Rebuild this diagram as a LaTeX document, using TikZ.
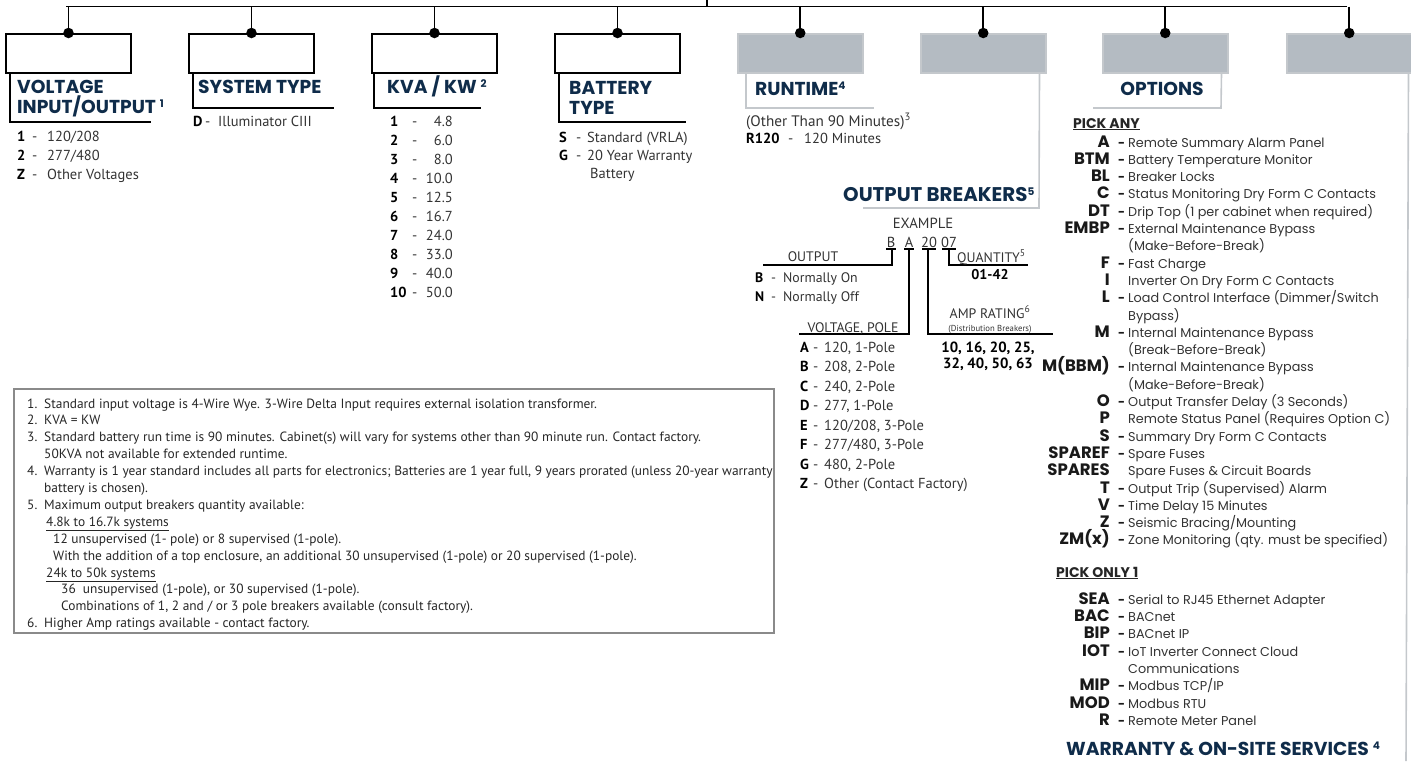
\documentclass[tikz,border=0pt]{standalone}
\usepackage{fontspec}
\setmainfont{PT Sans}
\newfontfamily\pop{Poppins}
\usetikzlibrary{calc}
\definecolor{headc}{HTML}{0F2C4A}
\definecolor{gfill}{HTML}{B4BBC2}
\definecolor{gline}{HTML}{C4C8CC}
\definecolor{txt}{HTML}{333333}
\definecolor{nbord}{HTML}{8A8A8A}
\tikzset{
 wbox/.style={draw=black, line width=2pt, fill=white, minimum width=125pt, minimum height=39pt, anchor=north west, inner sep=0pt},
 gbox/.style={draw=gline, line width=1.5pt, fill=gfill, minimum width=125pt, minimum height=39pt, anchor=north west, inner sep=0pt},
 bus/.style={line width=1.6pt, black},
 brk/.style={line width=1.8pt, black},
 gbrk/.style={line width=1.6pt, gline},
 thin/.style={line width=1.2pt, black},
 hd/.style={font=\pop\bfseries\fontsize{18.7}{22}\selectfont, text=headc, anchor=base west, inner sep=0pt},
 lt/.style={font=\fontsize{14.5}{17}\selectfont, text=txt, anchor=base west, inner sep=0pt},
 lc/.style={font=\bfseries\fontsize{14.5}{17}\selectfont, text=black, anchor=base west, inner sep=0pt},
 st/.style={font=\fontsize{13.8}{16}\selectfont, text=txt, anchor=base, inner sep=0pt},
 oc/.style={font=\pop\bfseries\fontsize{16.5}{19}\selectfont, text=black!90, anchor=base east, inner sep=0pt},
 odash/.style={font=\pop\bfseries\fontsize{12}{14}\selectfont, text=black!90, anchor=base west, inner sep=0pt},
 od/.style={font=\pop\fontsize{12.8}{15}\selectfont, text=txt, anchor=base west, inner sep=0pt},
 pk/.style={font=\pop\bfseries\fontsize{14}{16}\selectfont, text=black!85, anchor=base west, inner sep=0pt},
 nt/.style={font=\fontsize{13.4}{15}\selectfont, text=black!85, anchor=base west, inner sep=0pt},
 dot/.style={circle, fill=black, inner sep=0pt, minimum size=10.5pt},
}
\newcounter{on}
\newcommand\opt[4]{\stepcounter{on}%
 \node[oc] (oc\theon) at (1110,#1) {#2};%
 \node[odash] (ox\theon) at (1118,#1) {#3};%
 \node[od] (od\theon) at (1128,#1) {#4};}
\newcommand\sups[1]{{\fontsize{10.5}{10}\selectfont\raisebox{5.5pt}{#1}}}
\begin{document}
\begin{tikzpicture}[x=1pt,y=-1pt]
\useasboundingbox (0,0) rectangle (1411,761);
% bus
\coordinate (top) at (707,0);
\coordinate (busL) at (66,6.5);
\coordinate (busR) at (1347,6.5);
\coordinate (busC) at (707,6.5);
\draw[bus] (busL) -- (busR);
\draw[bus] (top) -- (busC);
% boxes
\node[wbox] (b1) at (5,33) {};
\node[wbox] (b2) at (188,33) {};
\node[wbox] (b3) at (371,33) {};
\node[wbox] (b4) at (554,33) {};
\node[gbox] (b5) at (737,33) {};
\node[gbox] (b6) at (920,33) {};
\node[gbox] (b7) at (1102,33) {};
\node[gbox] (b8) at (1286,33) {};
\foreach \b in {b1,b2,b3,b4,b5,b6,b7,b8}{
  \draw[bus] (\b.north |- busL) -- (\b.north);
  \node[dot] (d\b) at (\b.north) {};
}
% brackets
\draw[brk] ($(b1.south west)+(5,0)$) -- (10,122) -- (151,122);
\draw[brk] ($(b2.south west)+(5,0)$) -- (193,108) -- (334,108);
\draw[brk] ($(b3.south west)+(3,0)$) -- (374,108) -- (481,108);
\draw[brk] ($(b4.south west)+(5,0)$) -- (559,122) -- (686,122);
\draw[gbrk] ($(b5.south west)+(9,0)$) -- (746,108) -- (874,108);
\draw[gbrk] ($(b6.south east)+(-7,0)$) -- (1039,208) -- (863,208);
\draw[gbrk] ($(b7.south east)+(-7,0)$) -- (1221,108) -- (1093,108);
\draw[gbrk] ($(b8.south east)+(-4,0)$) -- (1406,761);
% headings
\node[hd] (h1a) at (17,93) {VOLTAGE};
\node[hd] (h1b) at (17,113) {INPUT/OUTPUT \sups{1}};
\node[hd] (h2) at (198,93) {SYSTEM TYPE};
\node[hd] (h3) at (387,93) {KVA / KW \sups{2}};
\node[hd] (h4a) at (569,94) {BATTERY};
\node[hd] (h4b) at (569,114) {TYPE};
\node[hd] (h5) at (755,95) {RUNTIME\sups{4}};
\node[hd, anchor=base] (h7) at (1162,95) {OPTIONS};
\node[hd, font=\pop\bfseries\fontsize{19.8}{22}\selectfont] (h6) at (843,201) {OUTPUT BREAKERS\sups{5}};
\node[hd] (h8) at (1066,755) {WARRANTY \& ON-SITE SERVICES \sups{4}};
% list 1
\foreach \c/\t [count=\i] in {1/120\slash 208,2/277\slash 480,Z/Other Voltages}{
  \pgfmathsetmacro\yy{141+19*(\i-1)}
  \node[lc] (v\i) at (17,\yy) {\c};
  \node[lt] (vd\i) at (32,\yy) {-};
  \node[lt] (vt\i) at (47,\yy) {\t};
}
% list 2
\node[lc] (s1) at (193,126) {D};
\node[lt] (sd1) at (205,126) {-};
\node[lt] (st1) at (218,126) {Illuminator CIII};
% list 3
\foreach \c/\v [count=\i] in {1/4.8,2/6.0,3/8.0,4/10.0,5/12.5,6/16.7,7/24.0,8/33.0,9/40.0,10/50.0}{
  \pgfmathsetmacro\yy{126+19*(\i-1)}
  \node[lc] (k\i) at (390,\yy) {\c};
  \node[lt] (kd\i) at (412,\yy) {-};
  \node[lt, anchor=base east] (kv\i) at (453,\yy) {\v};
}
% list 4
\node[lc] (bs) at (559,142) {S};
\node[lt] (bsd) at (576,142) {-};
\node[lt] (bst) at (587,142) {Standard (VRLA)};
\node[lc] (bg) at (559,160) {G};
\node[lt] (bgd) at (576,160) {-};
\node[lt] (bgt) at (587,160) {20 Year Warranty};
\node[lt] (bgt2) at (590,178) {Battery};
% runtime
\node[lt, font=\fontsize{15.2}{17}\selectfont] (r1) at (746,126) {(Other Than 90 Minutes)\textsuperscript{3}};
\node[lc] (r2) at (746,143) {R120};
\node[lt] (r2d) at (788,143) {-};
\node[lt] (r2t) at (804,143) {120 Minutes};
% output breakers example
\node[st, font=\fontsize{14.7}{17}\selectfont] (ex) at (923,228) {EXAMPLE};
\node[st, font=\fontsize{14.5}{17}\selectfont] (eB) at (891,247) {B};
\node[st, font=\fontsize{14.5}{17}\selectfont] (eA) at (909,247) {A};
\node[st, font=\fontsize{14.5}{17}\selectfont] (e20) at (929,247) {20};
\node[st, font=\fontsize{14.5}{17}\selectfont] (e07) at (949,247) {07};
\draw[thin] ($(eB.base)+(-5,2)$) -- ($(eB.base)+(5,2)$);
\draw[thin] ($(eA.base)+(-5,2)$) -- ($(eA.base)+(5,2)$);
\draw[thin] ($(e20.base)+(-7,2)$) -- ($(e20.base)+(7,2)$);
\draw[thin] ($(e07.base)+(-7,2)$) -- ($(e07.base)+(7,2)$);
\coordinate (oEnd) at (763,265);
\coordinate (vEnd) at (799,334);
\coordinate (aEnd) at (1053,334);
\coordinate (qEnd) at (1028,265);
\draw[thin] ($(eB.base)+(1,2)$) |- (oEnd);
\draw[thin] ($(eA.base)+(0,2)$) |- (vEnd);
\draw[thin] ($(e20.base)+(-1,2)$) |- (aEnd);
\draw[thin] ($(e07.base)+(0,2)$) |- (qEnd);
\node[st] (lo) at (813,261) {OUTPUT};
\node[lc, font=\bfseries\fontsize{13.8}{16}\selectfont] (o1) at (755,282) {B};
\node[lt, font=\fontsize{13.8}{16}\selectfont] (o1d) at (771,282) {-};
\node[lt, font=\fontsize{13.8}{16}\selectfont] (o1t) at (783,282) {Normally On};
\node[lc, font=\bfseries\fontsize{13.8}{16}\selectfont] (o2) at (755,301) {N};
\node[lt, font=\fontsize{13.8}{16}\selectfont] (o2d) at (771,301) {-};
\node[lt, font=\fontsize{13.8}{16}\selectfont] (o2t) at (783,301) {Normally Off};
\node[st, anchor=base west] (lq) at (957,262) {QUANTITY\textsuperscript{5}};
\node[lc, anchor=base, font=\bfseries\fontsize{14.2}{16}\selectfont] (q1) at (990,279) {01-42};
\node[st] (la) at (990,318) {AMP RATING\textsuperscript{6}};
\node[st, font=\fontsize{8.7}{10}\selectfont] (la2) at (990,331) {(Distribution Breakers)};
\node[lc, anchor=base, font=\bfseries\fontsize{14.8}{16}\selectfont] (a1) at (988,352) {10, 16, 20, 25,};
\node[lc, anchor=base, font=\bfseries\fontsize{14.8}{16}\selectfont] (a2) at (988,368) {32, 40, 50, 63};
\node[st] (lv) at (853,332) {VOLTAGE, POLE};
\foreach \c/\t [count=\i] in {A/{120, 1-Pole},B/{208, 2-Pole},C/{240, 2-Pole},D/{277, 1-Pole},E/{120\slash 208, 3-Pole},F/{277\slash 480, 3-Pole},G/{480, 2-Pole},Z/Other (Contact Factory)}{
  \pgfmathsetmacro\yy{352+19.5*(\i-1)}
  \node[lc] (p\i) at (800,\yy) {\c};
  \node[lt] (pd\i) at (813,\yy) {-};
  \node[lt] (pt\i) at (824,\yy) {\t};
}
% options
\node[pk] (pa) at (1073,128) {\underline{PICK ANY}};
\opt{147}{A}{-}{Remote Summary Alarm Panel}
\opt{164.3}{BTM}{-}{Battery Temperature Monitor}
\opt{181.6}{BL}{-}{Breaker Locks}
\opt{198.9}{C}{-}{Status Monitoring Dry Form C Contacts}
\opt{216.2}{DT}{-}{Drip Top (1 per cabinet when required)}
\opt{233.5}{EMBP}{-}{External Maintenance Bypass}
\node[od] (oc6b) at (1128,250.8) {(Make-Before-Break)};
\opt{268.1}{F}{-}{Fast Charge}
\opt{285.4}{I}{}{Inverter On Dry Form C Contacts}
\opt{302.7}{L}{-}{Load Control Interface (Dimmer/Switch}
\node[od] (oc10b) at (1128,320) {Bypass)};
\opt{337.3}{M}{-}{Internal Maintenance Bypass}
\node[od] (oc11b) at (1128,354.6) {(Break-Before-Break)};
\opt{371.9}{M(BBM)}{-}{Internal Maintenance Bypass}
\node[od] (oc12b) at (1128,389.2) {(Make-Before-Break)};
\opt{406.5}{O}{-}{Output Transfer Delay (3 Seconds)}
\opt{423.8}{P}{}{Remote Status Panel (Requires Option C)}
\opt{441.1}{S}{-}{Summary Dry Form C Contacts}
\opt{458.4}{SPAREF}{-}{Spare Fuses}
\opt{475.7}{SPARES}{}{Spare Fuses \& Circuit Boards}
\opt{493}{T}{-}{Output Trip (Supervised) Alarm}
\opt{510.3}{V}{-}{Time Delay 15 Minutes}
\opt{527.6}{Z}{-}{Seismic Bracing/Mounting}
\opt{544.9}{ZM(x)}{-}{Zone Monitoring (qty. must be specified)}
\node[pk] (po) at (1056,577) {\underline{PICK ONLY 1}};
\opt{604}{SEA}{-}{Serial to RJ45 Ethernet Adapter}
\opt{621.4}{BAC}{-}{BACnet}
\opt{638.8}{BIP}{-}{BACnet IP}
\opt{656.2}{IOT}{-}{IoT Inverter Connect Cloud}
\node[od] (oiot) at (1128,673) {Communications};
\opt{690.6}{MIP}{-}{Modbus TCP/IP}
\opt{708}{MOD}{-}{Modbus RTU}
\opt{725.4}{R}{-}{Remote Meter Panel}
% notes
\node[draw=nbord, line width=1.5pt, minimum width=760pt, minimum height=244pt, anchor=north west, inner sep=0pt] (notes) at (13,388) {};
\node[nt] (n1) at (27,408) {1.};
\node[nt] (n1t) at (44,408) {Standard input voltage is 4-Wire Wye. 3-Wire Delta Input requires external isolation transformer.};
\node[nt] (n2) at (27,424.9) {2.};
\node[nt] (n2t) at (44,424.9) {KVA = KW};
\node[nt] (n3) at (27,441.8) {3.};
\node[nt] (n3t) at (44,441.8) {Standard battery run time is 90 minutes. Cabinet(s) will vary for systems other than 90 minute run. Contact factory.};
\node[nt] (n3u) at (44,458.7) {50KVA not available for extended runtime.};
\node[nt] (n4) at (27,475.6) {4.};
\node[nt] (n4t) at (44,475.6) {Warranty is 1 year standard includes all parts for electronics; Batteries are 1 year full, 9 years prorated (unless 20-year warranty};
\node[nt] (n4u) at (44,492.5) {battery is chosen).};
\node[nt] (n5) at (27,509.4) {5.};
\node[nt] (n5t) at (44,509.4) {Maximum output breakers quantity available:};
\node[nt] (n5a) at (46,526.3) {\underline{4.8k to 16.7k systems}};
\node[nt] (n5b) at (53,543.2) {12 unsupervised (1- pole) or 8 supervised (1-pole).};
\node[nt] (n5c) at (53,560.1) {With the addition of a top enclosure, an additional 30 unsupervised (1-pole) or 20 supervised (1-pole).};
\node[nt] (n5d) at (46,577) {\underline{24k to 50k systems}};
\node[nt] (n5e) at (61,593.9) {36\ \ unsupervised (1-pole), or 30 supervised (1-pole).};
\node[nt] (n5f) at (61,610.8) {Combinations of 1, 2 and / or 3 pole breakers available (consult factory).};
\node[nt] (n6) at (27,627.7) {6.};
\node[nt] (n6t) at (44,627.7) {Higher Amp ratings available - contact factory.};
\end{tikzpicture}
\end{document}
